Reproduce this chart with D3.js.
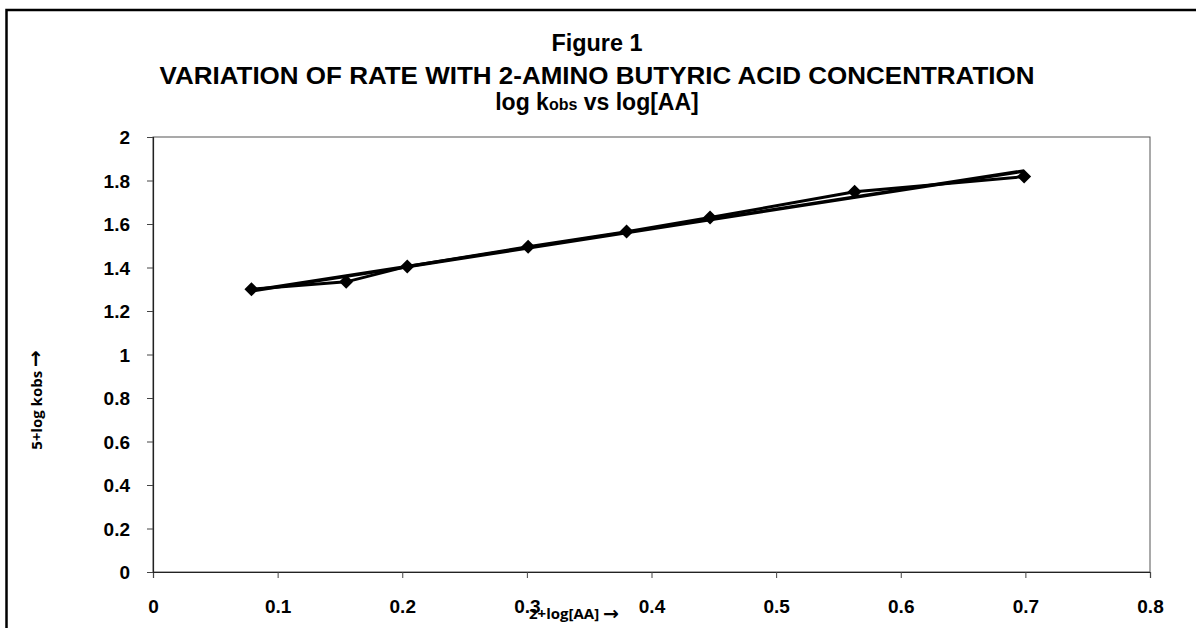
<!DOCTYPE html>
<html>
<head>
<meta charset="utf-8">
<script src="https://cdn.jsdelivr.net/npm/d3@7"></script>
<style>
  body { margin: 0; background: #fff; }
  svg { display: block; }
</style>
</head>
<body>
<svg></svg>
<script>
var xValues = [0.079, 0.155, 0.204, 0.301, 0.380, 0.447, 0.563, 0.699];
var yValues = [1.300, 1.334, 1.405, 1.495, 1.565, 1.630, 1.748, 1.818];
// linear trendline ends
var trendX = [0.079, 0.699];
var trendY = [1.293, 1.844];
var xTicks = [0, 0.1, 0.2, 0.3, 0.4, 0.5, 0.6, 0.7, 0.8];
var yTicks = [0, 0.2, 0.4, 0.6, 0.8, 1, 1.2, 1.4, 1.6, 1.8, 2];

var svgWidth = 1196, svgHeight = 628;
var margin = { top: 137, right: 46, bottom: 56, left: 153 };
var width = svgWidth - margin.left - margin.right;
var height = svgHeight - margin.top - margin.bottom;

var svg = d3.select("svg")
    .attr("width", svgWidth)
    .attr("height", svgHeight);

svg.append("rect")
    .attr("width", "100%")
    .attr("height", "100%")
    .attr("fill", "white");

// outer chart frame (right and bottom edges are cut off)
svg.append("path")
    .attr("d", "M6.5,640 L6.5,10 L1210,10")
    .attr("fill", "none")
    .attr("stroke", "#000")
    .attr("stroke-width", 2.5);

var g = svg.append("g")
    .attr("transform", "translate(" + margin.left + "," + margin.top + ")");

var x = d3.scaleLinear().domain([0, 0.8]).range([0, width]);
var y = d3.scaleLinear().domain([0, 2]).range([height, 0]);

// plot area border
g.append("rect")
    .attr("width", width)
    .attr("height", height)
    .attr("fill", "none")
    .attr("stroke", "#555")
    .attr("stroke-width", 1);

var xAxis = g.append("g")
    .attr("transform", "translate(0," + height + ")")
    .call(d3.axisBottom(x).tickValues(xTicks).tickSize(6).tickPadding(22)
        .tickFormat(d3.format("")));
var yAxis = g.append("g")
    .call(d3.axisLeft(y).tickValues(yTicks).tickSize(6).tickPadding(17)
        .tickFormat(d3.format("")));

[xAxis, yAxis].forEach(function (a) {
    a.selectAll("path.domain").attr("stroke", "#222").attr("stroke-width", 1.2);
    a.selectAll(".tick line").attr("stroke", "#444");
    a.selectAll("text")
        .attr("fill", "#000")
        .attr("font-family", "Liberation Sans, Arial, sans-serif")
        .attr("font-weight", "bold")
        .attr("font-size", "19px");
});
yAxis.selectAll("text").attr("dy", "0.36em");

// data line
var line = d3.line()
    .x(function (d) { return x(d[0]); })
    .y(function (d) { return y(d[1]); });

var pts = xValues.map(function (v, i) { return [v, yValues[i]]; });

g.append("path")
    .datum(pts)
    .attr("fill", "none")
    .attr("stroke", "#000")
    .attr("stroke-width", 3)
    .attr("stroke-linejoin", "round")
    .attr("d", line);

// trendline
g.append("path")
    .datum(trendX.map(function (v, i) { return [v, trendY[i]]; }))
    .attr("fill", "none")
    .attr("stroke", "#000")
    .attr("stroke-width", 3.5)
    .attr("d", line);

// diamond markers
g.selectAll(".pt")
    .data(pts)
    .enter().append("path")
    .attr("class", "pt")
    .attr("d", "M0,-7 L7,0 L0,7 L-7,0 Z")
    .attr("transform", function (d) { return "translate(" + x(d[0]) + "," + y(d[1]) + ")"; })
    .attr("fill", "#000");

// titles
var titleX = 597;
var tFont = "Liberation Sans, Arial, sans-serif";
svg.append("text")
    .attr("x", titleX).attr("y", 51)
    .attr("text-anchor", "middle")
    .attr("font-family", tFont).attr("font-weight", "bold").attr("font-size", "23px")
    .attr("textLength", 91).attr("lengthAdjust", "spacingAndGlyphs")
    .text("Figure 1");
svg.append("text")
    .attr("x", titleX).attr("y", 84)
    .attr("text-anchor", "middle")
    .attr("font-family", tFont).attr("font-weight", "bold").attr("font-size", "23px")
    .attr("textLength", 875).attr("lengthAdjust", "spacingAndGlyphs")
    .text("VARIATION OF RATE WITH 2-AMINO BUTYRIC ACID CONCENTRATION");
var sub = svg.append("text")
    .attr("x", titleX).attr("y", 110)
    .attr("text-anchor", "middle")
    .attr("font-family", tFont).attr("font-weight", "bold").attr("font-size", "23px");
sub.append("tspan").text("log k");
sub.append("tspan").attr("font-size", "16px").text("obs");
sub.append("tspan").text(" vs log[AA]");

// axis titles
var aFont = "Open Sans, Noto Sans, sans-serif";
var xt = svg.append("text")
    .attr("x", 574).attr("y", 619)
    .attr("text-anchor", "middle")
    .attr("font-family", aFont).attr("font-weight", "bold").attr("font-size", "15px");
xt.append("tspan").text("2+log[AA] ");
xt.append("tspan").attr("font-family", "DejaVu Sans").attr("font-size", "19px").attr("dy", 1).text("\u2192");

var yt = svg.append("text")
    .attr("transform", "translate(42,400) rotate(-90)")
    .attr("text-anchor", "middle")
    .attr("font-family", aFont).attr("font-weight", "bold").attr("font-size", "15px");
yt.append("tspan").text("5+log kobs ");
yt.append("tspan").attr("font-family", "DejaVu Sans").attr("font-size", "20px").text("\u2192");
</script>
</body>
</html>
